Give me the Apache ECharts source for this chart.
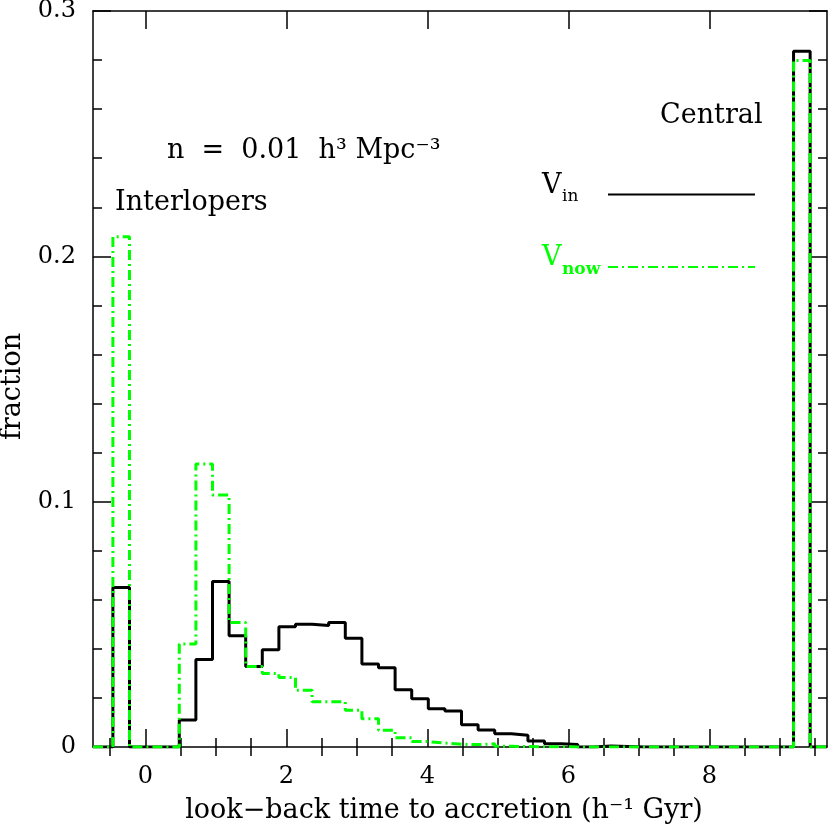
<!DOCTYPE html>
<html>
<head>
<meta charset="utf-8">
<script src="https://cdn.jsdelivr.net/npm/echarts@6/dist/echarts.min.js"></script>
<style>
html, body { margin: 0; padding: 0; background: #fff; }
#main { width: 830px; height: 827px; }
</style>
</head>
<body>
<div id="main"></div>
<script>
// histogram bins share one grid: left edge of bin i = binStart + i * binWidth
var binStart = -0.46;
var binWidth = 0.2355;

// fraction per bin, V_in (solid black)
var vIn = [0.065, 0, 0, 0,
  0.011, 0.0357, 0.0675, 0.0453, 0.0328, 0.0396, 0.049, 0.0500, 0.0495, 0.0507,
  0.0443, 0.0338, 0.0323, 0.0233, 0.0197, 0.0156, 0.0147, 0.0091, 0.0069, 0.0054,
  0.0048, 0.0024, 0.0013, 0.0010, 0, 0.0004, 0.0002,
  0, 0, 0, 0, 0, 0, 0, 0, 0, 0,
  0.2836];

// fraction per bin, V_now (green dash-dot)
var vNow = [0.208, 0, 0, 0,
  0.042, 0.1154, 0.1027, 0.0507, 0.0328, 0.030, 0.0283, 0.0231, 0.0184, 0.0184,
  0.015, 0.0115, 0.0068, 0.0038, 0.0022, 0.0016, 0.0011, 0.0010, 0.0013, 0.0003,
  0.0002, 0.0001, 0.0001, 0, 0, 0, 0,
  0, 0, 0, 0, 0, 0, 0, 0, 0, 0,
  0.2798];

var xMin = -0.742, xMax = 9.67;
var xMajor = [0, 2, 4, 6, 8];
var xMinor = [-0.5, 0.5, 1, 1.5, 2.5, 3, 3.5, 4.5, 5, 5.5, 6.5, 7, 7.5, 8.5, 9, 9.5];

var FONT = 'DejaVu Serif';
var GREEN = '#00ff00';

function steps(vals) {
  var pts = [[xMin, 0]];
  vals.forEach(function (v, i) {
    pts.push([binStart + i * binWidth, v]);
  });
  pts.push([binStart + vals.length * binWidth, 0]);
  pts.push([xMax, 0]);
  return pts;
}

function xAx(pos, ticks, len, extra) {
  var a = {
    type: 'value',
    position: pos,
    min: xMin,
    max: xMax,
    splitLine: { show: false },
    axisLine: { show: true, onZero: false, lineStyle: { color: '#000', width: 1.5 } },
    axisTick: { show: true, inside: true, length: len, customValues: ticks,
      lineStyle: { color: '#000', width: 1.5 } },
    axisLabel: { show: false }
  };
  return Object.assign(a, extra || {});
}

function yAx(pos, extra) {
  var a = {
    type: 'value',
    position: pos,
    min: 0,
    max: 0.3,
    interval: 0.1,
    splitLine: { show: false },
    axisLine: { show: true, onZero: false, lineStyle: { color: '#000', width: 1.5 } },
    axisTick: { show: true, inside: true, length: 18, lineStyle: { color: '#000', width: 1.5 } },
    minorTick: { show: true, splitNumber: 5, length: 9, lineStyle: { color: '#000', width: 1.5 } },
    axisLabel: { show: false }
  };
  return Object.assign(a, extra || {});
}

var chart = echarts.init(document.getElementById('main'));

var legendRich = {
  v: { fontFamily: FONT, fontSize: 27, width: 20, lineHeight: 27, verticalAlign: 'top', align: 'left' },
  sub: { fontFamily: FONT, fontSize: 17, width: 41, lineHeight: 45, verticalAlign: 'middle', align: 'left',
    padding: [5, 0, 0, 0] },
  subb: { fontFamily: FONT, fontSize: 17, fontWeight: 'bold', width: 41, lineHeight: 45,
    verticalAlign: 'middle', align: 'left', padding: [5, 0, 0, 0] }
};

var option = {
  animation: false,
  backgroundColor: '#fff',
  grid: { left: 93, right: 3, top: 11, bottom: 80, outerBoundsMode: 'none', containLabel: false },
  xAxis: [
    xAx('bottom', xMajor, 18, {
      axisLabel: { show: true, customValues: xMajor, margin: 18, color: '#000',
        fontFamily: FONT, fontSize: 24 },
      name: 'look\u2212back time to accretion (h\u207b\u00b9 Gyr)',
      nameLocation: 'middle',
      nameGap: 50,
      nameTextStyle: { fontFamily: FONT, fontSize: 27, color: '#000', padding: [0, 32, 0, 0] }
    }),
    xAx('bottom', xMinor, 9, { axisLine: { show: false } }),
    xAx('top', xMajor, 18),
    xAx('top', xMinor, 9, { axisLine: { show: false } })
  ],
  yAxis: [
    yAx('left', {
      axisLabel: { show: true, margin: 17, color: '#000', fontFamily: FONT, fontSize: 24 },
      name: 'fraction',
      nameLocation: 'middle',
      nameGap: 66,
      nameRotate: 90,
      nameTextStyle: { fontFamily: FONT, fontSize: 27, color: '#000', padding: [0, 15, 0, 0] }
    }),
    yAx('right')
  ],
  legend: {
    orient: 'vertical',
    left: 542,
    top: 172,
    padding: 0,
    align: 'right',
    itemWidth: 147,
    itemHeight: 14,
    itemGap: 39,
    itemStyle: { opacity: 0 },
    data: [
      { name: 'V_in', textStyle: { color: '#000' } },
      { name: 'V_now', textStyle: { color: GREEN } }
    ],
    formatter: function (name) {
      return name === 'V_in' ? '{v|V}{sub|in}' : '{v|V}{subb|now}';
    },
    textStyle: { rich: legendRich }
  },
  graphic: [
    { type: 'text', left: 660, top: 102,
      style: { text: 'Central', font: '27px "DejaVu Serif"', fill: '#000' } },
    { type: 'text', left: 167, top: 137,
      style: { text: 'n  =  0.01  h\u00b3 Mpc\u207b\u00b3', font: '27px "DejaVu Serif"', fill: '#000' } },
    { type: 'text', left: 115, top: 189,
      style: { text: 'Interlopers', font: '27px "DejaVu Serif"', fill: '#000' } }
  ],
  series: [
    {
      name: 'V_in',
      type: 'line',
      step: 'end',
      symbol: 'none',
      data: steps(vIn),
      lineStyle: { color: '#000', width: 3 },
      itemStyle: { color: '#000' }
    },
    {
      name: 'V_now',
      type: 'line',
      step: 'end',
      symbol: 'none',
      data: steps(vNow),
      lineStyle: { color: GREEN, width: 3, type: [10, 4, 2, 4] },
      itemStyle: { color: GREEN }
    }
  ]
};

chart.setOption(option);
</script>
</body>
</html>
